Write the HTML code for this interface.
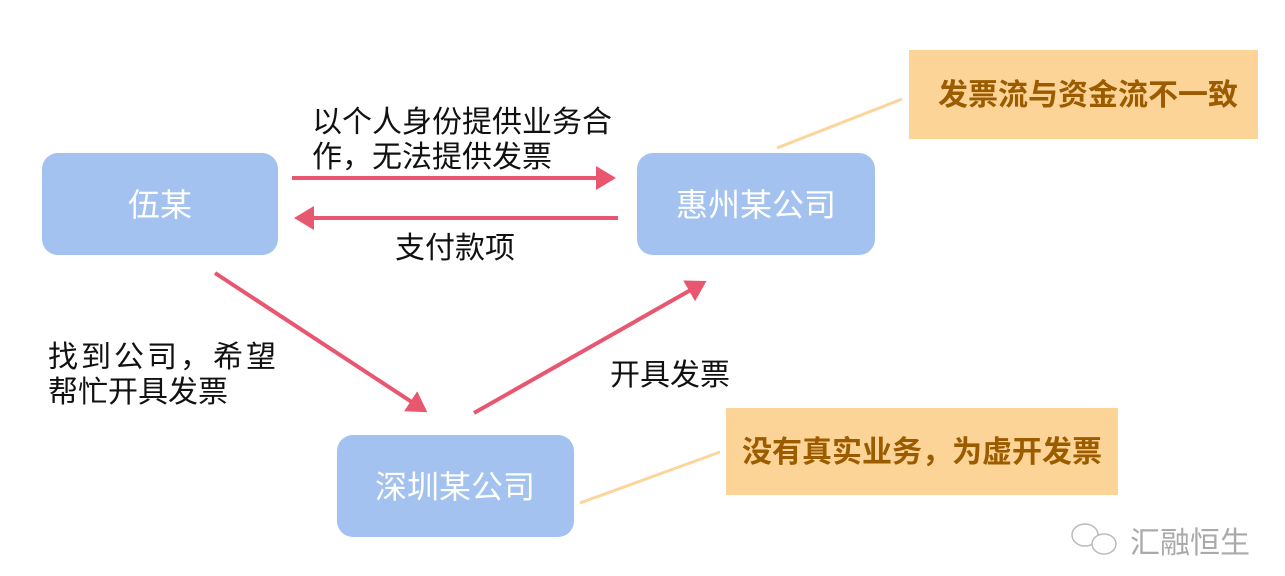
<!DOCTYPE html>
<html><head><meta charset="utf-8"><style>
body{margin:0;background:#fff;}
svg text{font-family:"Liberation Sans","Noto Sans CJK SC",sans-serif;}
</style></head><body>
<svg width="1285" height="571" viewBox="0 0 1285 571" xmlns="http://www.w3.org/2000/svg">
<defs>
<marker id="ah" markerWidth="6" markerHeight="6" refX="4" refY="3" orient="auto" markerUnits="strokeWidth">
<path d="M0,0 L5,3 L0,6 z" fill="#e9566f"/></marker>
</defs>
<rect x="42" y="153" width="236" height="102" rx="16" fill="#a3c2ef"/>
<rect x="637" y="153" width="238" height="102" rx="16" fill="#a3c2ef"/>
<rect x="337" y="435" width="237" height="102" rx="16" fill="#a3c2ef"/>
<text x="160" y="216" font-size="32" fill="#fff" text-anchor="middle">伍某</text>
<text x="756" y="216" font-size="32" fill="#fff" text-anchor="middle">惠州某公司</text>
<text x="455" y="498" font-size="32" fill="#fff" text-anchor="middle">深圳某公司</text>
<rect x="909" y="50" width="349" height="89" fill="#fdd498"/>
<rect x="726" y="408" width="392" height="87" fill="#fdd498"/>
<text x="1088" y="105" font-size="30" font-weight="bold" fill="#9b5c00" text-anchor="middle">发票流与资金流不一致</text>
<text x="922" y="462" font-size="30" font-weight="bold" fill="#9b5c00" text-anchor="middle">没有真实业务，为虚开发票</text>
<line x1="777" y1="148" x2="902" y2="99" stroke="#fcd59a" stroke-width="3"/>
<line x1="580" y1="503" x2="720" y2="452" stroke="#fcd59a" stroke-width="3"/>
<g stroke="#e9566f" stroke-width="4" fill="none">
<line x1="292" y1="178" x2="612" y2="178" marker-end="url(#ah)"/>
<line x1="618" y1="218" x2="298" y2="218" marker-end="url(#ah)"/>
<line x1="215" y1="273" x2="424" y2="410" marker-end="url(#ah)"/>
<line x1="474" y1="413" x2="703" y2="283" marker-end="url(#ah)"/>
</g>
<g font-size="30" fill="#111">
<text x="312" y="132">以个人身份提供业务合</text>
<text x="312" y="167">作，无法提供发票</text>
<text x="395" y="258">支付款项</text>
<text x="48" y="367" letter-spacing="3">找到公司，希望</text>
<text x="48" y="402">帮忙开具发票</text>
<text x="610" y="385">开具发票</text>
</g>
<g fill="none" stroke="#bbb" stroke-width="1.5">
<ellipse cx="1085" cy="535" rx="13" ry="11"/>
<ellipse cx="1104" cy="544" rx="12" ry="10" fill="#fff"/>
</g>
<text x="1130" y="553" font-size="30" fill="#aaa">汇融恒生</text>
</svg>
</body></html>
